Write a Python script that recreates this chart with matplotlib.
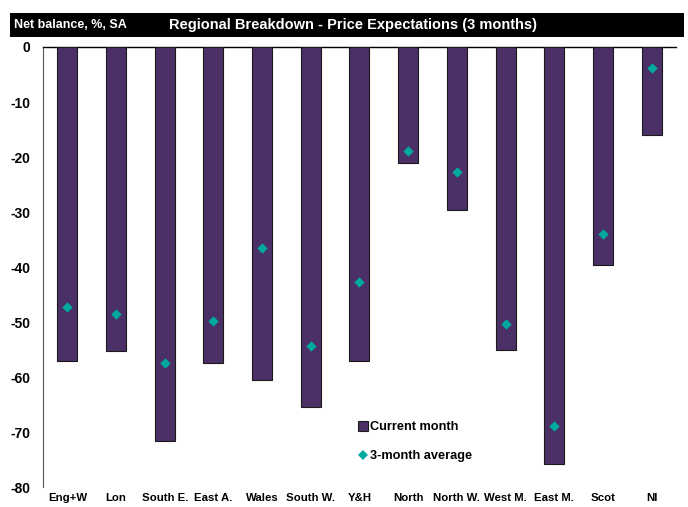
import matplotlib
matplotlib.use("Agg")
import matplotlib.pyplot as plt
from matplotlib.lines import Line2D
from matplotlib.patches import Rectangle
import numpy as np

REGIONS = ["Eng+W", "Lon", "South E.", "East A.", "Wales", "South W.", "Y&H",
           "North", "North W.", "West M.", "East M.", "Scot", "NI"]
CURRENT = [-57.0, -55.3, -71.6, -57.5, -60.5, -65.5, -57.1,
           -21.1, -29.6, -55.1, -75.8, -39.6, -16.0]
AVG_3M = [-47.3, -48.5, -57.5, -49.8, -36.5, -54.4, -42.7,
          -18.9, -22.7, -50.4, -68.9, -34.0, -3.8]
Y_TICKS = [0, -10, -20, -30, -40, -50, -60, -70, -80]

BAR_COLOR = "#4B3068"
DIAMOND_COLOR = "#00A99D"

plt.rcParams["font.family"] = ["Liberation Sans Narrow", "Liberation Sans", "DejaVu Sans"]
plt.rcParams["font.weight"] = "bold"


def main() -> None:
    fig = plt.figure(figsize=(6.88, 5.07), dpi=100)
    ax = fig.add_axes([0.0625, 0.0394, 0.92, 0.8679])

    x = np.arange(len(REGIONS))
    ax.bar(x, CURRENT, width=0.41, color=BAR_COLOR, edgecolor="#1a1a1a",
           linewidth=0.8, zorder=3)
    ax.scatter(x, AVG_3M, marker="D", s=28, color=DIAMOND_COLOR, zorder=4,
               linewidths=0)

    ax.set_xlim(-0.5, len(REGIONS) - 0.5)
    ax.set_ylim(-80, 0)
    ax.set_yticks(Y_TICKS)
    ax.set_yticklabels([str(v) for v in Y_TICKS], fontsize=10, fontweight="bold")
    ax.set_xticks(x)
    ax.set_xticklabels(REGIONS, fontsize=8.2, fontweight="bold")
    ax.tick_params(axis="both", length=0)
    ax.tick_params(axis="y", pad=9)
    ax.tick_params(axis="x", pad=4)

    for side in ("right", "bottom"):
        ax.spines[side].set_visible(False)
    ax.spines["top"].set_color("black")
    ax.spines["top"].set_linewidth(1.0)
    ax.spines["left"].set_color("#555555")
    ax.spines["left"].set_linewidth(0.8)

    handles = [
        Line2D([], [], marker="s", linestyle="none", markersize=7,
               markerfacecolor=BAR_COLOR, markeredgecolor="#1a1a1a", markeredgewidth=0.8),
        Line2D([], [], marker="D", linestyle="none", markersize=5,
               markerfacecolor=DIAMOND_COLOR, markeredgewidth=0),
    ]
    ax.legend(handles, ["Current month", "3-month average"], loc="upper left",
              bbox_to_anchor=(353 / 688, 1 - 415 / 507), bbox_transform=fig.transFigure,
              frameon=False, handlelength=0.6, handletextpad=0.2, labelspacing=1.3,
              prop={"size": 9.2, "weight": "bold"}, borderpad=0)

    # black title banner
    fig.patches.append(Rectangle((10 / 688, 1 - 37 / 507), 674 / 688, 24 / 507,
                                 transform=fig.transFigure, facecolor="black",
                                 edgecolor="none", zorder=0))
    fig.text(14 / 688, 1 - 25 / 507, "Net balance, %, SA", color="white",
             fontsize=9, fontweight="bold", va="center", ha="left")
    fig.text(353 / 688, 1 - 25 / 507,
             "Regional Breakdown - Price Expectations (3 months)", color="white",
             fontsize=10.5, fontweight="bold", va="center", ha="center")

    fig.savefig("out.png", dpi=100)


if __name__ == "__main__":
    main()
